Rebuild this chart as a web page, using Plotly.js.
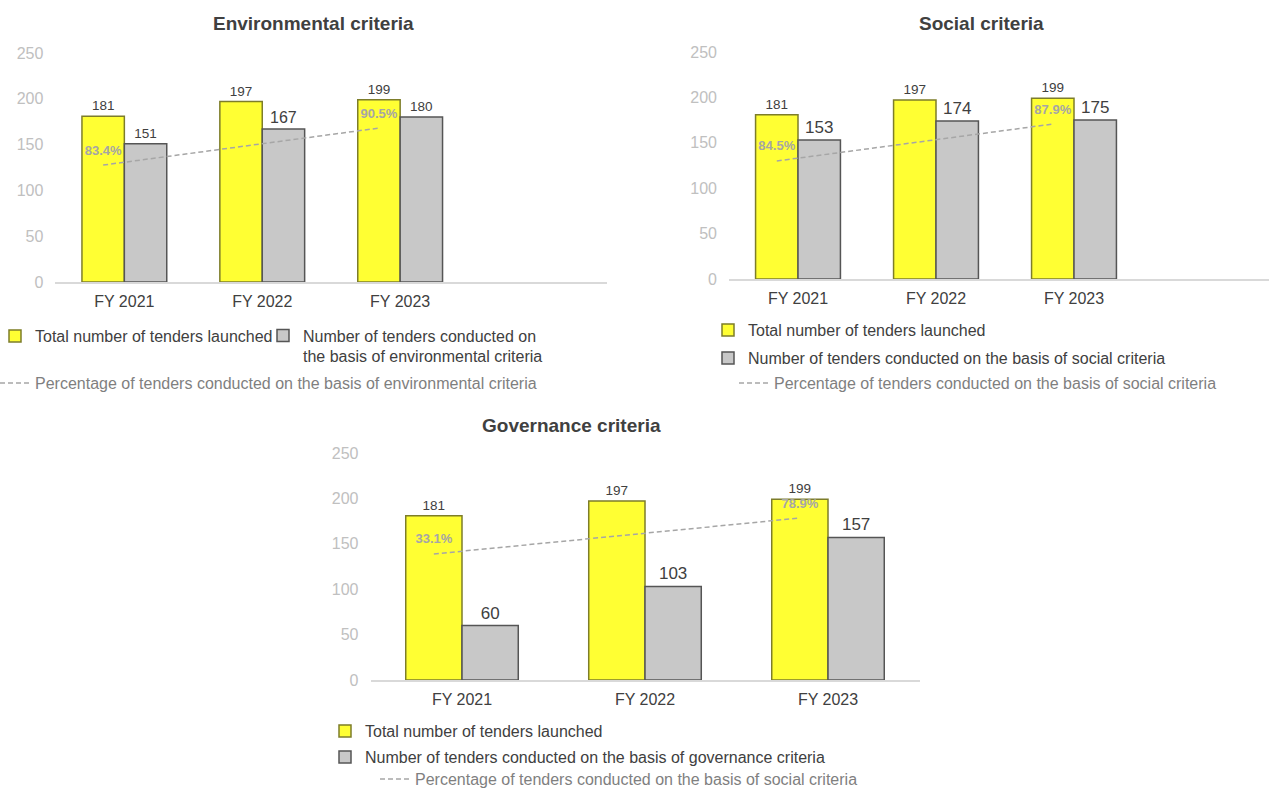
<!DOCTYPE html>
<html>
<head>
<meta charset="utf-8">
<script src="https://cdn.plot.ly/plotly-3.0.1.min.js"></script>
<style>html,body{margin:0;padding:0;background:#fff;}#chart{width:1269px;height:791px;}</style>
</head>
<body>
<div id="chart"></div>
<script>
// ---- data ----
const categories = ['FY 2021', 'FY 2022', 'FY 2023'];

const envTotal = [181, 197, 199];
const envCriteria = [151, 167, 180];
const envPct = [83.4, null, 90.5];

const socTotal = [181, 197, 199];
const socCriteria = [153, 174, 175];
const socPct = [84.5, null, 87.9];

const govTotal = [181, 197, 199];
const govCriteria = [60, 103, 157];
const govPct = [33.1, null, 78.9];

const chartTitles = ['Environmental criteria', 'Social criteria', 'Governance criteria'];
const totalName = 'Total number of tenders launched';
const envCritName = 'Number of tenders conducted on<br>the basis of environmental criteria';
const socCritName = 'Number of tenders conducted on the basis of social criteria';
const govCritName = 'Number of tenders conducted on the basis of governance criteria';
const envPctName = 'Percentage of tenders conducted on the basis of environmental criteria';
const socPctName = 'Percentage of tenders conducted on the basis of social criteria';
const govPctName = 'Percentage of tenders conducted on the basis of social criteria';

// ---- styles ----
const FONT = 'Liberation Sans, Arial, Helvetica, sans-serif';
const YELLOW = '#FFFF33', YELLOW_EDGE = '#7d7d2a';
const GREY = '#C8C8C8', GREY_EDGE = '#555555';
const PCT_COL = '#a6a6a6';
const DARK = '#404040';

function pctText(arr) { return arr.map(v => v == null ? '' : v.toFixed(1) + '%'); }

function makeTraces(xa, ya, ya2, total, crit, pct, critName, pctName, legs, critSizes) {
  return [
    {
      type: 'bar', x: categories, y: total, name: totalName, xaxis: xa, yaxis: ya,
      offsetgroup: 'a', legend: legs[0],
      marker: {color: YELLOW, line: {color: YELLOW_EDGE, width: 1.5}},
      text: total.map(String), textposition: 'outside', cliponaxis: false,
      textfont: {size: 13.5, color: DARK, family: FONT}, hoverinfo: 'x+y'
    },
    {
      type: 'bar', x: categories, y: crit, name: critName, xaxis: xa, yaxis: ya,
      offsetgroup: 'b', legend: legs[1],
      marker: {color: GREY, line: {color: GREY_EDGE, width: 1.5}},
      text: crit.map(String), textposition: 'outside', cliponaxis: false,
      textfont: {size: critSizes, color: DARK, family: FONT}, hoverinfo: 'x+y'
    },
    {
      type: 'scatter', mode: 'lines+markers+text', x: categories, y: pct, name: pctName,
      xaxis: xa, yaxis: ya2, offsetgroup: 'a', legend: legs[2], connectgaps: true,
      line: {color: PCT_COL, width: 1.5, dash: '5px,3px'},
      marker: {size: 10, color: 'rgba(0,0,0,0)'},
      text: pctText(pct), textposition: 'top center', cliponaxis: false,
      textfont: {size: 13, color: PCT_COL, family: FONT, weight: 700}
    }
  ];
}

const data = [].concat(
  makeTraces('x', 'y', 'y2', envTotal, envCriteria, envPct, envCritName, envPctName,
             ['legend', 'legend2', 'legend3'], [13.5, 16, 13.5]),
  makeTraces('x2', 'y3', 'y4', socTotal, socCriteria, socPct, socCritName, socPctName,
             ['legend4', 'legend5', 'legend6'], 17),
  makeTraces('x3', 'y5', 'y6', govTotal, govCriteria, govPct, govCritName, govPctName,
             ['legend7', 'legend8', 'legend9'], 17)
);

const W = 1269, H = 791;
const px = v => v / W;
const py = v => (H - v) / H;

function xAxis(domain, range, anchor) {
  return {
    domain: domain, range: range, type: 'category', anchor: anchor,
    showline: true, linecolor: '#d9d9d9', linewidth: 1.5, ticks: '',
    showgrid: false, zeroline: false, ticklabelstandoff: 4,
    tickfont: {size: 16, color: DARK, family: FONT}, fixedrange: true
  };
}
function yAxis(domain, anchor) {
  return {
    domain: domain, range: [0, 250], dtick: 50, anchor: anchor,
    showgrid: false, zeroline: false, showline: false, ticks: '',
    ticklabelstandoff: 11,
    tickfont: {size: 16, color: '#c0c0c0', family: FONT}, fixedrange: true
  };
}
function yPct(over, anchor, range) {
  return {overlaying: over, anchor: anchor, range: range, visible: false, fixedrange: true};
}
function legendAt(xPx, yPx, extra) {
  return Object.assign({
    x: px(xPx), y: py(yPx), xanchor: 'left', yanchor: 'middle', orientation: 'v',
    bgcolor: 'rgba(0,0,0,0)', borderwidth: 0, itemclick: false, itemdoubleclick: false,
    font: {size: 16, color: DARK, family: FONT}
  }, extra || {});
}
function titleAnn(text, xPx, yPx) {
  return {
    text: '<b>' + text + '</b>', xref: 'paper', yref: 'paper', x: px(xPx), y: py(yPx),
    xanchor: 'center', yanchor: 'middle', showarrow: false,
    font: {size: 19, color: DARK, family: FONT}
  };
}

const pctFont = {size: 16, color: '#7f7f7f', family: FONT};

const layout = {
  width: W, height: H,
  margin: {l: 0, r: 0, t: 0, b: 0, autoexpand: false},
  paper_bgcolor: '#ffffff', plot_bgcolor: 'rgba(0,0,0,0)',
  barmode: 'group', bargap: 0.385, bargroupgap: 0,
  scattermode: 'group', scattergap: 0.385,
  font: {family: FONT, color: DARK},
  xaxis: xAxis([px(55.4), px(607)], [-0.5, 3.5], 'y'),
  yaxis: yAxis([py(282), py(53)], 'x'),
  yaxis2: yPct('y', 'x', [60.97, 104.9]),
  xaxis2: xAxis([px(729), 1], [-0.5, 3.413], 'y3'),
  yaxis3: yAxis([py(279), py(52)], 'x2'),
  yaxis4: yPct('y3', 'x2', [73.64, 94.53]),
  xaxis3: xAxis([px(370.5), px(919.5)], [-0.5, 2.5], 'y5'),
  yaxis5: yAxis([py(680), py(453)], 'x3'),
  yaxis6: yPct('y5', 'x3', [-127.4, 161.7]),
  legend: legendAt(-5, 336),
  legend2: legendAt(263, 346, {valign: 'top'}),
  legend3: legendAt(-5, 383, {font: pctFont}),
  legend4: legendAt(708, 330),
  legend5: legendAt(708, 358),
  legend6: legendAt(734, 383, {font: pctFont}),
  legend7: legendAt(325, 731),
  legend8: legendAt(325, 757),
  legend9: legendAt(375, 779, {font: pctFont}),
  annotations: [
    titleAnn(chartTitles[0], 313, 24),
    titleAnn(chartTitles[1], 981, 24),
    titleAnn(chartTitles[2], 571, 425)
  ],
  showlegend: true
};

Plotly.newPlot('chart', data, layout, {displayModeBar: false, staticPlot: false});
</script>
</body>
</html>
